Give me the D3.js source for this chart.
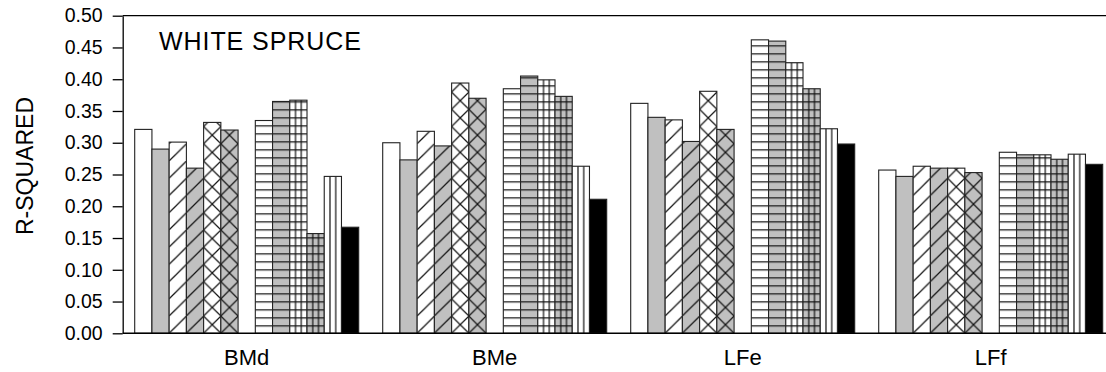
<!DOCTYPE html>
<html>
<head>
<meta charset="utf-8">
<script src="https://cdn.jsdelivr.net/npm/d3@7"></script>
<style>
  html, body { margin: 0; padding: 0; background: #fff; }
  svg { display: block; font-family: "Liberation Sans", Arial, sans-serif; }
</style>
</head>
<body>
<div id="chart"></div>
<script>
// groups along the x axis
var categories = ['BMd', 'BMe', 'LFe', 'LFf'];

// the 12 treatments, in drawing order (a blank slot sits after the 6th)
var seriesNames = ['white', 'grey', 'whiteDiag', 'greyDiag', 'whiteCross', 'greyCross',
                   'whiteHoriz', 'greyHoriz', 'whiteGrid', 'greyGrid', 'whiteVert', 'black'];

// r-squared values per group, one per series
var bmdValues = [0.321, 0.290, 0.301, 0.260, 0.332, 0.320, 0.335, 0.365, 0.367, 0.157, 0.247, 0.167];
var bmeValues = [0.300, 0.273, 0.318, 0.295, 0.394, 0.370, 0.385, 0.405, 0.399, 0.373, 0.263, 0.211];
var lfeValues = [0.362, 0.340, 0.336, 0.302, 0.381, 0.321, 0.462, 0.460, 0.426, 0.385, 0.322, 0.298];
var lffValues = [0.257, 0.247, 0.263, 0.260, 0.260, 0.253, 0.285, 0.281, 0.281, 0.274, 0.282, 0.266];

var yTicks = [0, 0.05, 0.10, 0.15, 0.20, 0.25, 0.30, 0.35, 0.40, 0.45, 0.50];

var valuesByGroup = [bmdValues, bmeValues, lfeValues, lffValues];

// look of each series: base colour + hatch kind
var looks = {
  white:      { fill: '#ffffff', hatch: 'none' },
  grey:       { fill: '#c0c0c0', hatch: 'none' },
  whiteDiag:  { fill: '#ffffff', hatch: 'diag' },
  greyDiag:   { fill: '#c0c0c0', hatch: 'diag' },
  whiteCross: { fill: '#ffffff', hatch: 'cross' },
  greyCross:  { fill: '#c0c0c0', hatch: 'cross' },
  whiteHoriz: { fill: '#ffffff', hatch: 'horiz' },
  greyHoriz:  { fill: '#c0c0c0', hatch: 'horiz' },
  whiteGrid:  { fill: '#ffffff', hatch: 'grid' },
  greyGrid:   { fill: '#c0c0c0', hatch: 'grid' },
  whiteVert:  { fill: '#ffffff', hatch: 'vert' },
  black:      { fill: '#000000', hatch: 'none' }
};

var width = 1106;
var height = 372;

var left = 122.7;
var groupStep = 248;
var plotRight = left + groupStep * categories.length;

var svg = d3.select('#chart').append('svg')
  .attr('width', width)
  .attr('height', height);

var defs = svg.append('defs');

var x0 = d3.scaleBand()
  .domain(categories)
  .range([left, plotRight])
  .paddingInner(24 / 248)
  .paddingOuter(12 / 248);

// 13 slots per group, slot 6 stays empty
var slots = d3.range(13);
var slotOf = function(i) { return i < 6 ? i : i + 1; };

var x1 = d3.scaleBand()
  .domain(slots)
  .range([0, x0.bandwidth()]);

var y = d3.scaleLinear()
  .domain([0, 0.5])
  .range([333.3, 15.7]);

// flatten into one record per bar
var bars = [];
categories.forEach(function(cat, gi) {
  valuesByGroup[gi].forEach(function(v, si) {
    bars.push({ cat: cat, gi: gi, si: si, series: seriesNames[si], value: v });
  });
});

var hatchStroke = '#111';

// one pattern per bar so the hatch lines up with the bar's own edges
bars.forEach(function(d) {
  var look = looks[d.series];
  if (look.hatch === 'none') return;
  var bx = x0(d.cat) + x1(slotOf(d.si));
  var w = x1.bandwidth();
  var th = (look.hatch === 'diag' || look.hatch === 'cross') ? w : 8;
  var p = defs.append('pattern')
    .attr('id', 'hatch-' + d.gi + '-' + d.si)
    .attr('patternUnits', 'userSpaceOnUse')
    .attr('x', bx)
    .attr('y', y(0))
    .attr('width', w)
    .attr('height', th);
  p.append('rect').attr('width', w).attr('height', th).attr('fill', look.fill);
  var path = '';
  if (look.hatch === 'diag' || look.hatch === 'cross') {
    path += 'M-1,' + (th + 1) + 'L' + (w + 1) + ',-1';
  }
  if (look.hatch === 'cross') {
    path += 'M-1,-1L' + (w + 1) + ',' + (th + 1);
  }
  if (look.hatch === 'horiz' || look.hatch === 'grid') {
    path += 'M0,0.6H' + w;
  }
  if (look.hatch === 'grid' || look.hatch === 'vert') {
    path += 'M' + (w / 3) + ',0V' + th + 'M' + (2 * w / 3) + ',0V' + th;
  }
  p.append('path')
    .attr('d', path)
    .attr('fill', 'none')
    .attr('stroke', hatchStroke)
    .attr('stroke-width', 1.2);
});

svg.append('g')
  .selectAll('rect')
  .data(bars)
  .enter()
  .append('rect')
  .attr('x', function(d) { return x0(d.cat) + x1(slotOf(d.si)); })
  .attr('y', function(d) { return y(d.value); })
  .attr('width', x1.bandwidth())
  .attr('height', function(d) { return y(0) - y(d.value); })
  .attr('fill', function(d) {
    var look = looks[d.series];
    return look.hatch === 'none' ? look.fill : 'url(#hatch-' + d.gi + '-' + d.si + ')';
  })
  .attr('stroke', '#222')
  .attr('stroke-width', 1.1);

// y axis
var yAxis = d3.axisLeft(y)
  .tickValues(yTicks)
  .tickFormat(d3.format('.2f'))
  .tickSize(10)
  .tickSizeOuter(0)
  .tickPadding(10);

var yg = svg.append('g')
  .attr('transform', 'translate(' + left + ',0)')
  .call(yAxis);
yg.selectAll('text')
  .attr('font-size', '19.5px')
  .attr('font-family', '"Liberation Sans", Arial, sans-serif')
  .attr('fill', '#000');
yg.selectAll('line, path').attr('stroke', '#000').attr('stroke-width', 1.3);

// frame lines: baseline and top
svg.append('line')
  .attr('x1', left).attr('x2', plotRight)
  .attr('y1', y(0)).attr('y2', y(0))
  .attr('stroke', '#000').attr('stroke-width', 1.5);
svg.append('line')
  .attr('x1', left).attr('x2', plotRight)
  .attr('y1', y(0.5)).attr('y2', y(0.5))
  .attr('stroke', '#000').attr('stroke-width', 1.3);

// group labels
svg.append('g')
  .selectAll('text')
  .data(categories)
  .enter()
  .append('text')
  .attr('x', function(d) { return x0(d) + x0.bandwidth() / 2; })
  .attr('y', 365)
  .attr('text-anchor', 'middle')
  .attr('font-size', '22px')
  .text(function(d) { return d; });

svg.append('text')
  .attr('transform', 'translate(33,166) rotate(-90)')
  .attr('text-anchor', 'middle')
  .attr('font-size', '23px')
  .text('R-SQUARED');

svg.append('text')
  .attr('x', 159)
  .attr('y', 50)
  .attr('font-size', '25px')
  .attr('textLength', 202)
  .text('WHITE SPRUCE');
</script>
</body>
</html>
